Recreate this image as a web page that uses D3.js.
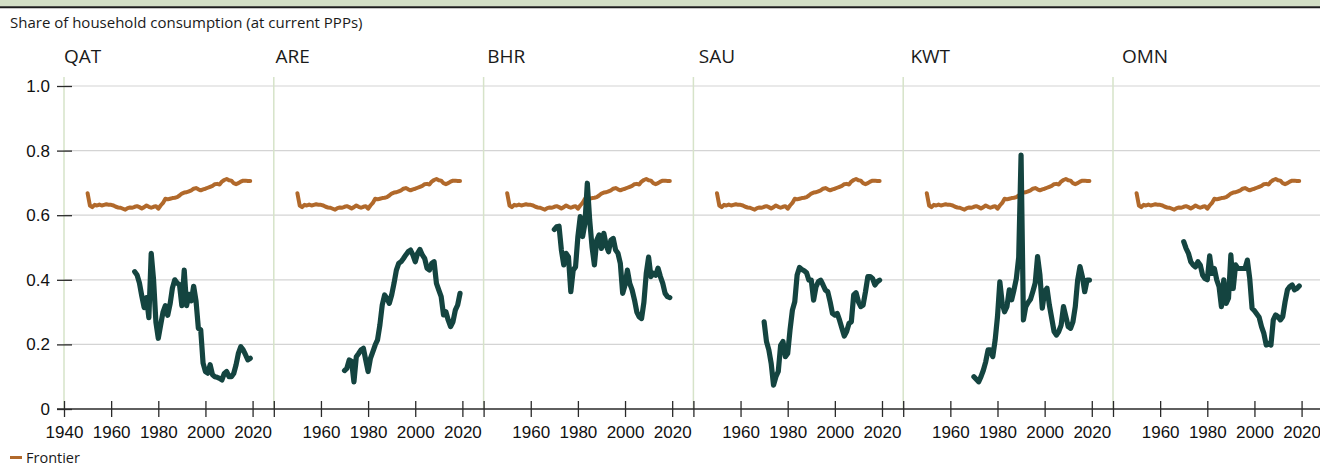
<!DOCTYPE html>
<html>
<head>
<meta charset="utf-8">
<script src="https://cdn.jsdelivr.net/npm/d3@7"></script>
<style>
  html, body { margin: 0; padding: 0; background: #fff; }
  svg { display: block; }
</style>
</head>
<body>
<svg id="chart" width="1320" height="466"></svg>
<script>
// Economies shown, one small panel each
const categories = ["QAT", "ARE", "BHR", "SAU", "KWT", "OMN"];

// Frontier share, yearly from 1950
const frontierStart = 1950;
const frontier = [
  0.668, 0.630, 0.625, 0.632, 0.630, 0.633, 0.630, 0.632, 0.634, 0.632,
  0.632, 0.630, 0.626, 0.624, 0.623, 0.620, 0.617, 0.622, 0.624, 0.623,
  0.626, 0.628, 0.625, 0.621, 0.625, 0.630, 0.626, 0.623, 0.626, 0.628,
  0.620, 0.630, 0.638, 0.651, 0.649, 0.651, 0.653, 0.654, 0.656, 0.661,
  0.667, 0.670, 0.671, 0.674, 0.677, 0.682, 0.684, 0.680, 0.677, 0.680,
  0.682, 0.685, 0.688, 0.691, 0.696, 0.697, 0.695, 0.704, 0.709, 0.712,
  0.708, 0.707, 0.699, 0.696, 0.699, 0.704, 0.707, 0.707, 0.706, 0.706
];

// Country shares, yearly from 1970
const seriesStart = 1970;
const QAT = [
  0.425, 0.415, 0.390, 0.350, 0.314, 0.345, 0.283, 0.482, 0.400, 0.268,
  0.219, 0.260, 0.300, 0.320, 0.290, 0.325, 0.375, 0.400, 0.390, 0.385,
  0.320, 0.430, 0.320, 0.355, 0.335, 0.380, 0.335, 0.250, 0.245, 0.142,
  0.116, 0.111, 0.137, 0.106, 0.100, 0.098, 0.095, 0.090, 0.110, 0.116,
  0.100, 0.100, 0.110, 0.137, 0.173, 0.193, 0.183, 0.168, 0.152, 0.157
];
const ARE = [
  0.119, 0.126, 0.152, 0.147, 0.084, 0.162, 0.172, 0.183, 0.188, 0.152,
  0.116, 0.157, 0.177, 0.198, 0.214, 0.260, 0.322, 0.353, 0.343, 0.327,
  0.353, 0.389, 0.430, 0.451, 0.456, 0.466, 0.477, 0.487, 0.492, 0.477,
  0.456, 0.482, 0.494, 0.477, 0.466, 0.436, 0.430, 0.451, 0.456, 0.389,
  0.368, 0.348, 0.291, 0.301, 0.275, 0.255, 0.270, 0.306, 0.322, 0.358
];
const BHR = [
  0.556, 0.564, 0.566, 0.492, 0.446, 0.482, 0.471, 0.363, 0.430, 0.440,
  0.534, 0.596, 0.534, 0.575, 0.699, 0.585, 0.502, 0.446, 0.523, 0.539,
  0.497, 0.544, 0.507, 0.487, 0.523, 0.528, 0.492, 0.482, 0.451, 0.358,
  0.384, 0.430, 0.389, 0.369, 0.338, 0.300, 0.285, 0.280, 0.330, 0.420,
  0.470, 0.410, 0.420, 0.414, 0.436, 0.410, 0.389, 0.358, 0.348, 0.345
];
const SAU = [
  0.270, 0.209, 0.183, 0.141, 0.074, 0.100, 0.116, 0.197, 0.209, 0.162,
  0.172, 0.245, 0.306, 0.332, 0.415, 0.438, 0.432, 0.428, 0.422, 0.399,
  0.399, 0.337, 0.378, 0.394, 0.399, 0.384, 0.368, 0.363, 0.332, 0.296,
  0.291, 0.296, 0.275, 0.250, 0.226, 0.240, 0.265, 0.270, 0.353, 0.360,
  0.332, 0.317, 0.322, 0.363, 0.410, 0.410, 0.404, 0.384, 0.394, 0.399
];
const KWT = [
  0.100, 0.092, 0.084, 0.100, 0.120, 0.146, 0.183, 0.183, 0.162, 0.213,
  0.286, 0.394, 0.327, 0.301, 0.317, 0.369, 0.338, 0.369, 0.404, 0.470,
  0.786, 0.276, 0.317, 0.330, 0.340, 0.364, 0.390, 0.472, 0.415, 0.312,
  0.364, 0.374, 0.322, 0.281, 0.240, 0.229, 0.240, 0.260, 0.317, 0.286,
  0.255, 0.250, 0.270, 0.317, 0.399, 0.441, 0.410, 0.363, 0.399, 0.399
];
const OMN = [
  0.518, 0.497, 0.482, 0.456, 0.446, 0.440, 0.456, 0.446, 0.415, 0.404,
  0.400, 0.474, 0.420, 0.435, 0.400, 0.379, 0.317, 0.400, 0.327, 0.343,
  0.477, 0.373, 0.446, 0.435, 0.435, 0.435, 0.435, 0.461, 0.404, 0.312,
  0.304, 0.294, 0.284, 0.255, 0.234, 0.198, 0.203, 0.198, 0.276, 0.291,
  0.286, 0.276, 0.286, 0.332, 0.369, 0.379, 0.384, 0.369, 0.373, 0.381
];
const seriesByCountry = { QAT, ARE, BHR, SAU, KWT, OMN };

// Axis ticks
const yTicks = [0, 0.2, 0.4, 0.6, 0.8, 1.0];
const yTickLabels = ["0", "0.2", "0.4", "0.6", "0.8", "1.0"];
const xTicks = [1940, 1960, 1980, 2000, 2020];
const xDomain = [1940, 2029];

// Text
const subtitle = "Share of household consumption (at current PPPs)";
const legendLabel = "Frontier";

// Layout
const W = 1320, H = 466;
const plotTop = 86, plotBottom = 409;
const firstLeft = 64, panelW = 209.8;
const titleStep = 211.6;
const COLOR_SERIES = "#144440";
const COLOR_FRONTIER = "#b1692b";
const COLOR_GRID = "#d4d4d4";
const COLOR_SEP = "#d6e3c9";
const COLOR_AXIS = "#2a2a2a";
const TEXT_FONT = "'Open Sans', 'Noto Sans', sans-serif";
const TICK_FONT = "'Liberation Sans', Arial, sans-serif";

const svg = d3.select("#chart");

// Header band
svg.append("rect").attr("x", 0).attr("y", 0).attr("width", W).attr("height", 6.5)
  .attr("fill", "#d3dfc6");
svg.append("line").attr("x1", 0).attr("x2", W).attr("y1", 7.2).attr("y2", 7.2)
  .attr("stroke", "#1c1c1c").attr("stroke-width", 2);

svg.append("text").attr("x", 10).attr("y", 27.5)
  .attr("font-family", TEXT_FONT).attr("font-size", 15).attr("fill", "#1a1a1a")
  .text(subtitle);

const y = d3.scaleLinear().domain([0, 1]).range([plotBottom, plotTop]);

// Horizontal gridlines
svg.append("g").selectAll("line").data(yTicks.filter(d => d > 0)).join("line")
  .attr("x1", firstLeft).attr("x2", W)
  .attr("y1", d => y(d)).attr("y2", d => y(d))
  .attr("stroke", COLOR_GRID).attr("stroke-width", 1.2);

// Panel separators
svg.append("g").selectAll("line").data(categories).join("line")
  .attr("x1", (d, i) => firstLeft + i * panelW).attr("x2", (d, i) => firstLeft + i * panelW)
  .attr("y1", 77).attr("y2", plotBottom)
  .attr("stroke", COLOR_SEP).attr("stroke-width", 1.5);

// Panel titles
svg.append("g").selectAll("text").data(categories).join("text")
  .attr("x", (d, i) => firstLeft + i * titleStep).attr("y", 63)
  .attr("font-family", TEXT_FONT).attr("font-size", 19).attr("fill", "#1a1a1a")
  .text(d => d);

// Panels: lines
const line = (xs) => d3.line().x(d => xs(d[0])).y(d => y(d[1])).curve(d3.curveLinear);

categories.forEach((c, i) => {
  const left = firstLeft + i * panelW;
  const x = d3.scaleLinear().domain(xDomain).range([left, left + panelW]);
  const g = svg.append("g");

  const fData = frontier.map((v, k) => [frontierStart + k, v]);
  g.append("path").datum(fData)
    .attr("d", line(x))
    .attr("fill", "none").attr("stroke", COLOR_FRONTIER)
    .attr("stroke-width", 4).attr("stroke-linejoin", "round").attr("stroke-linecap", "round");

  const sData = seriesByCountry[c].map((v, k) => [seriesStart + k, v]);
  g.append("path").datum(sData)
    .attr("d", line(x))
    .attr("fill", "none").attr("stroke", COLOR_SERIES)
    .attr("stroke-width", 5.2).attr("stroke-linejoin", "round").attr("stroke-linecap", "round");

  // x axis for this panel
  const ax = svg.append("g").attr("transform", `translate(0,${plotBottom})`)
    .call(d3.axisBottom(x).tickValues(xTicks)
      .tickFormat(d => (i === 0 || d !== 1940) ? String(d) : "")
      .tickSizeOuter(0));
  ax.select(".domain").remove();
  ax.selectAll(".tick line").attr("y1", -8).attr("y2", 8)
    .attr("stroke", COLOR_AXIS).attr("stroke-width", 1.3);
  ax.selectAll(".tick text").attr("y", 17).attr("dy", "0.71em")
    .attr("font-family", TICK_FONT).attr("font-size", 17).attr("fill", "#111");
});

// x axis baseline
svg.append("line").attr("x1", 57).attr("x2", W)
  .attr("y1", plotBottom).attr("y2", plotBottom)
  .attr("stroke", COLOR_AXIS).attr("stroke-width", 1.3);

// y axis
const ay = svg.append("g").attr("transform", `translate(${firstLeft},0)`)
  .call(d3.axisLeft(y).tickValues(yTicks).tickFormat((d, k) => yTickLabels[k]).tickSizeOuter(0));
ay.select(".domain").remove();
ay.selectAll(".tick line").attr("x1", -7).attr("x2", 8)
  .attr("stroke", COLOR_AXIS).attr("stroke-width", 1.3);
ay.selectAll(".tick text").attr("x", -14)
  .attr("font-family", TICK_FONT).attr("font-size", 17).attr("fill", "#111");

// Legend
svg.append("line").attr("x1", 10).attr("x2", 22).attr("y1", 457.5).attr("y2", 457.5)
  .attr("stroke", COLOR_FRONTIER).attr("stroke-width", 3);
svg.append("text").attr("x", 26).attr("y", 463)
  .attr("font-family", TEXT_FONT).attr("font-size", 14.5).attr("fill", "#1a1a1a")
  .text(legendLabel);
</script>
</body>
</html>
